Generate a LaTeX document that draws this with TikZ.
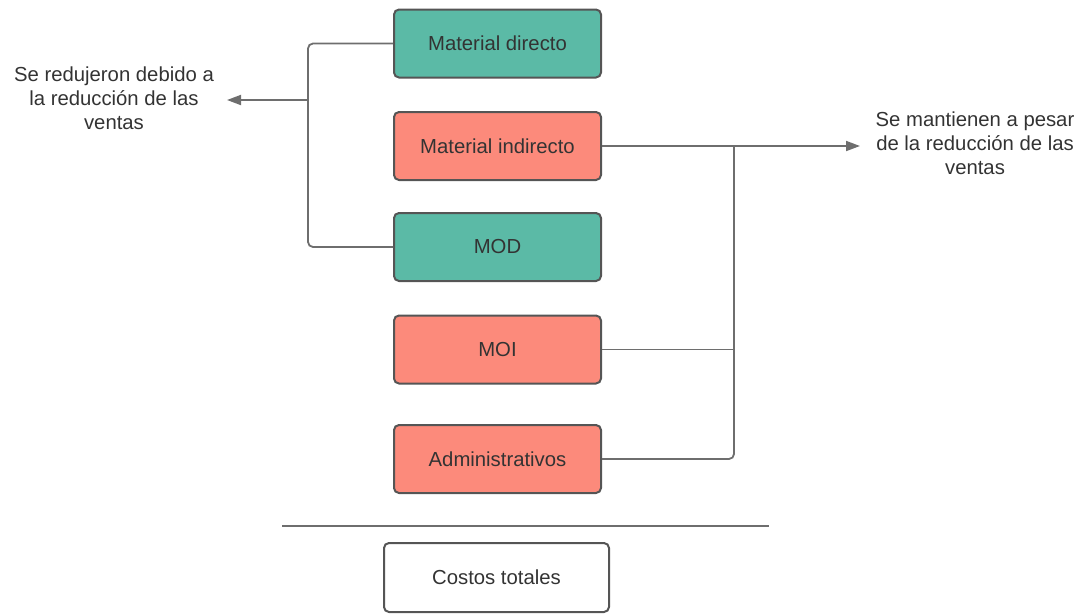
\documentclass[tikz,border=0pt]{standalone}
\usepackage{fontspec}
\setmainfont{Liberation Sans}
\usetikzlibrary{arrows.meta}
\definecolor{verde}{RGB}{91,186,166}
\definecolor{salmon}{RGB}{252,138,123}
\definecolor{borde}{RGB}{85,85,85}
\definecolor{linea}{RGB}{110,110,110}
\definecolor{texto}{RGB}{51,51,51}

\begin{document}
\begin{tikzpicture}[x=1pt,y=-1pt,
  every node/.style={font=\fontsize{20.3}{24}\selectfont, text=texto},
  caja/.style={draw=borde, line width=2pt, rounded corners=5pt, minimum width=207pt, minimum height=68pt},
  conector/.style={draw=linea, line width=1.8pt, rounded corners=5pt},
  flecha/.style={conector, -{Triangle[length=14pt,width=10pt]}}]
\useasboundingbox (0,0) rectangle (1090,614);
%costos
\node[caja, fill=verde] (md) at (497.5,43.5) {Material directo};
\node[caja, fill=salmon] (mi) at (497.5,146) {Material indirecto};
\node[caja, fill=verde] (mod) at (497.5,247) {MOD};
\node[caja, fill=salmon] (moi) at (497.5,349.5) {MOI};
\node[caja, fill=salmon] (adm) at (497.5,459) {Administrativos};
\node[caja, fill=white, minimum width=225pt, minimum height=69pt] (total) at (496.5,577.5) {Costos totales};
%textos
\node[align=center] (redu) at (114,98) {Se redujeron debido a\\la reducción de las\\ventas};
\node[align=center] (mant) at (975,143) {Se mantienen a pesar\\de la reducción de las\\ventas};
%puntos
\coordinate (lj) at (308,100);
\coordinate (ltip) at (227,100);
\coordinate (rj) at (734,146);
\coordinate (rtip) at (860,146);
\coordinate (sepL) at (282,526);
\coordinate (sepR) at (769,526);
%lineas
\draw[conector] (md.west) -| (lj) |- (mod.west);
\draw[flecha] (lj) -- (ltip);
\draw[flecha] (mi.east) -- (rtip);
\draw[conector] (adm.east) -| (rj);
\draw[conector] (moi.east) -- (moi.east -| rj);
\draw[draw=linea, line width=1.5pt] (sepL) -- (sepR);
\end{tikzpicture}
\end{document}
